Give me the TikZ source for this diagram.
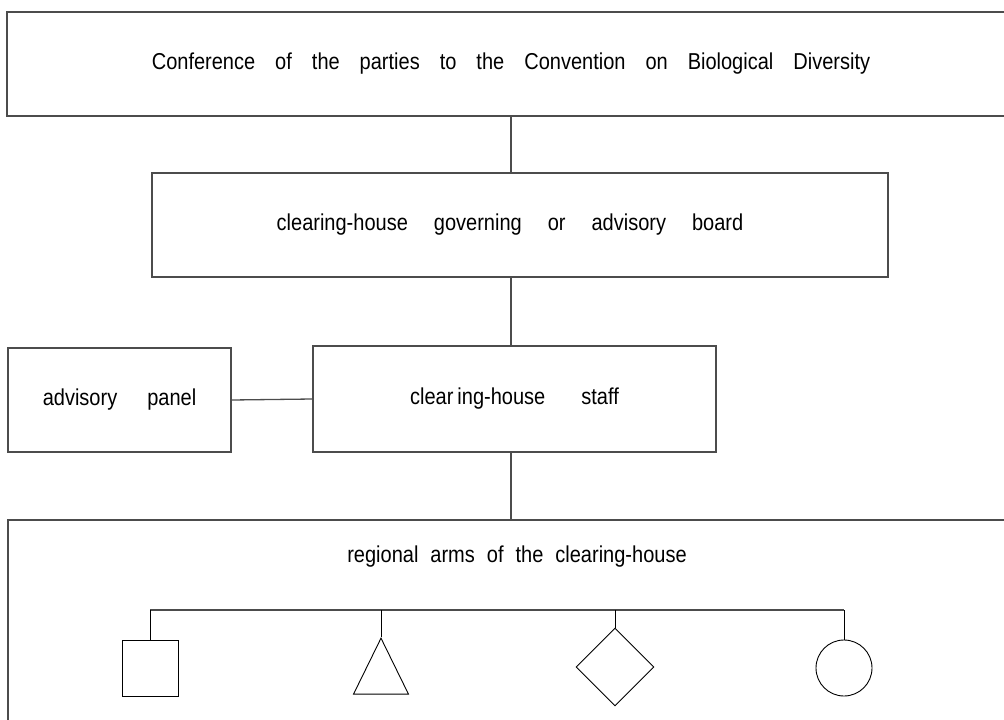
\documentclass[tikz,border=0pt]{standalone}
\usepackage{fontspec}
\setmainfont{Liberation Sans}
\newfontfamily\narrowfont{Liberation Sans}[FakeStretch=0.87]
\usetikzlibrary{shapes.geometric}

\tikzset{
  box/.style={shape=rectangle,draw=black!70,line width=1.3pt,inner sep=0pt},
  txt/.style={font=\narrowfont\fontsize{23}{26}\selectfont,execute at begin node={\spaceskip=#1\relax}},
  link/.style={draw=black!70,line width=1.3pt},
  figure/.style={draw=black,line width=0.9pt,inner sep=0pt}
}

\begin{document}
\begin{tikzpicture}[x=1pt,y=-1pt]
        \useasboundingbox (0,0) rectangle (1004,720);
        \clip (0,0) rectangle (1004,720);
        % the four levels
        \node[box,minimum width=1008,minimum height=104,txt=20pt](cop) at (511,64) {Conference of the parties to the Convention on Biological Diversity};
        \node[box,minimum width=736,minimum height=104,txt=26pt](board) at (520,225) {clearing-house governing or advisory board\kern20pt};
        \node[box,minimum width=223,minimum height=104,txt=30pt](panel) at (119.5,400) {advisory panel};
        \node[box,minimum width=403,minimum height=106,txt=36pt](staff) at (514.5,399) {clear\kern4pt ing-house staff};
        \node[box,minimum width=1006,minimum height=300](arms) at (511,670) {};
        \node[txt=12pt](armstext) at (517,557) {regional arms of the clearing-house};
        % the regional arms
        \node[figure,minimum size=56](sq) at (150,668) {};
        \node[figure,isosceles triangle,shape border rotate=90,isosceles triangle stretches,minimum width=55,minimum height=56,anchor=apex](tri) at (381,637) {};
        \node[figure,diamond,minimum size=78](dia) at (615,667) {};
        \node[figure,circle,minimum size=56](circ) at (844,668) {};
        \coordinate (bar) at (0,610);

        \draw[link] (cop.south) -- (cop.south |- board.north);
        \draw[link] (cop.south |- board.south) -- (cop.south |- staff.north);
        \draw[link] (cop.south |- staff.south) -- (arms.north);
        \draw[link] (panel.east) -- (staff.west);
        \draw[link] (sq.north |- bar) -- (circ.north |- bar);
        \draw[figure] (sq.north) -- (sq.north |- bar);
        \draw[figure] (tri.apex) -- (tri.apex |- bar);
        \draw[figure] (dia.north) -- (dia.north |- bar);
        \draw[figure] (circ.north) -- (circ.north |- bar);
        %\node[figure,regular polygon,regular polygon sides=3] (t) at (381,665) {};
\end{tikzpicture}
\end{document}
